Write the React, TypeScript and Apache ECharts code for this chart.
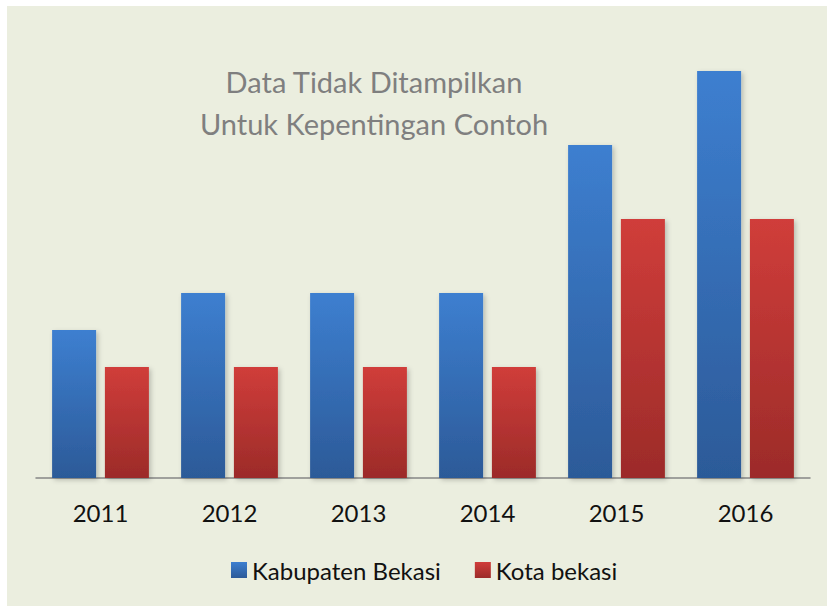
import React, { useEffect, useRef } from "react";
import * as echarts from "echarts";

const categories = ["2011", "2012", "2013", "2014", "2015", "2016"];
const kabupatenBekasi = [4, 5, 5, 5, 9, 11];
const kotaBekasi = [3, 3, 3, 3, 7, 7];
const seriesNames = ["Kabupaten Bekasi", "Kota bekasi"];
const titleLines = ["Data Tidak Ditampilkan", "Untuk Kepentingan Contoh"];

const FONT = "Lato, 'Open Sans', sans-serif";

export default function App() {
  const ref = useRef<HTMLDivElement>(null);
  useEffect(() => {
    document.body.style.margin = "0";
    if (!ref.current) return;
    const chart = echarts.init(ref.current, undefined, { renderer: "svg" });
    const blue = new echarts.graphic.LinearGradient(0, 0, 0, 1, [
      { offset: 0, color: "#3D7FD0" },
      { offset: 1, color: "#2C5A98" },
    ]);
    const red = new echarts.graphic.LinearGradient(0, 0, 0, 1, [
      { offset: 0, color: "#D03D3A" },
      { offset: 1, color: "#9C2B29" },
    ]);
    const shadow = {
      shadowBlur: 5,
      shadowColor: "rgba(0,0,0,0.22)",
      shadowOffsetX: 2,
      shadowOffsetY: 2,
    };
    chart.setOption({
      animation: false,
      backgroundColor: "#ffffff",
      graphic: [
        {
          type: "rect",
          z: -10,
          shape: { x: 7, y: 6, width: 840, height: 620 },
          style: { fill: "#EBEEDF" },
          silent: true,
        },
      ],
      title: {
        text: titleLines.join("\n"),
        left: 369,
        top: 55,
        textAlign: "center",
        textStyle: {
          fontFamily: FONT,
          fontSize: 29,
          fontWeight: "normal",
          color: "#7F7F7F",
          lineHeight: 42,
        },
      },
      legend: {
        data: seriesNames,
        left: 226,
        top: 553,
        icon: "rect",
        itemWidth: 16,
        itemHeight: 16,
        itemGap: 34,
        textStyle: { fontFamily: FONT, fontSize: 24, color: "#111111" },
      },
      grid: { left: 36, right: 17, top: 34, bottom: 128, containLabel: false },
      xAxis: {
        type: "category",
        data: categories,
        axisLine: { lineStyle: { color: "#868686", width: 1.5 } },
        axisTick: { show: false },
        axisLabel: { fontFamily: FONT, fontSize: 24, color: "#111111", margin: 22 },
      },
      yAxis: {
        type: "value",
        min: 0,
        max: 12,
        show: false,
        splitLine: { show: false },
      },
      series: [
        {
          name: seriesNames[0],
          type: "bar",
          data: kabupatenBekasi,
          barWidth: 44,
          barGap: "20%",
          itemStyle: { color: blue, ...shadow },
        },
        {
          name: seriesNames[1],
          type: "bar",
          data: kotaBekasi,
          barWidth: 44,
          barGap: "20%",
          itemStyle: { color: red, ...shadow },
        },
      ],
    });
    return () => chart.dispose();
  }, []);
  return <div ref={ref} style={{ width: 827, height: 606 }} />;
}
